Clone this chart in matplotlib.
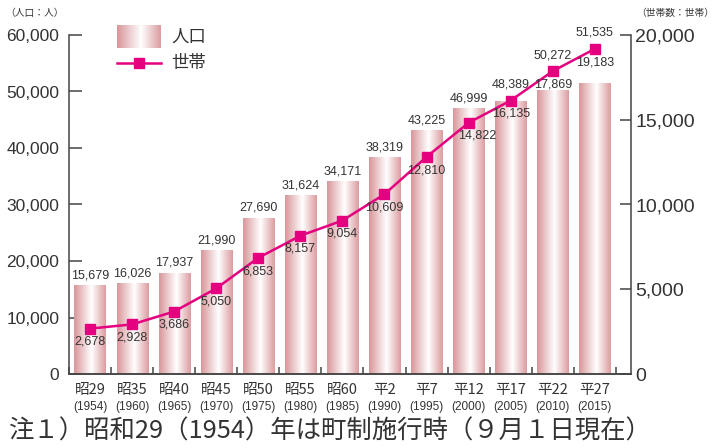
import matplotlib
matplotlib.use('Agg')
import matplotlib.pyplot as plt
from matplotlib.colors import LinearSegmentedColormap
import numpy as np

# data
eras = ['昭29', '昭35', '昭40', '昭45', '昭50', '昭55', '昭60',
        '平2', '平7', '平12', '平17', '平22', '平27']
years = ['1954', '1960', '1965', '1970', '1975', '1980', '1985',
         '1990', '1995', '2000', '2005', '2010', '2015']
population = [15679, 16026, 17937, 21990, 27690, 31624, 34171,
              38319, 43225, 46999, 48389, 50272, 51535]
households = [2678, 2928, 3686, 5050, 6853, 8157, 9054,
              10609, 12810, 14822, 16135, 17869, 19183]

JP = ['Noto Sans CJK JP', 'DejaVu Sans']
NUM = 'Liberation Sans'
PINK = '#e4007f'
TXT = '#333333'

grad = LinearSegmentedColormap.from_list(
    'bar', [(0, '#d9979b'), (0.55, '#ffffff'), (1, '#dc9da1')])
g = np.linspace(0, 1, 64).reshape(1, -1)

fig = plt.figure(figsize=(7.17, 4.48), dpi=100)
ax = fig.add_axes([69/717, 1 - 374/448, (631 - 69)/717, (374 - 35)/448])
ax2 = ax.twinx()

x = np.arange(len(eras))
bars = ax.bar(x, population, width=0.74, color='none', edgecolor='none', zorder=2)
for b in bars:
    im = ax.imshow(g, cmap=grad, aspect='auto', zorder=2,
                   extent=[b.get_x(), b.get_x() + b.get_width(), 0, b.get_height()])
    im.set_clip_path(b)

ax.set_xlim(-0.5, 12.86)
ax.set_ylim(0, 60000)
ax2.set_ylim(0, 20000)

ax2.plot(x, households, color=PINK, lw=1.8, marker='s', ms=6.5, zorder=5)

# spines and ticks
for a in (ax, ax2):
    for s in a.spines.values():
        s.set_color('#444444')
        s.set_linewidth(1.1)
    a.spines['top'].set_visible(False)
ax.spines['right'].set_visible(False)
ax2.spines['left'].set_visible(False)

ax.set_yticks(np.arange(0, 60001, 10000))
ax.set_yticklabels([f'{v:,}' for v in range(0, 60001, 10000)], fontsize=12.5, family=NUM, color=TXT)
ax.tick_params(axis='y', direction='in', length=9, width=1.1, color='#444444', pad=7)
ax2.set_yticks(np.arange(0, 20001, 5000))
ax2.set_yticklabels([f'{v:,}' for v in range(0, 20001, 5000)], fontsize=14, family=NUM, color=TXT)
ax2.tick_params(axis='y', direction='in', length=8, width=1.1, color='#444444', pad=3)

ax.set_xticks(np.arange(-0.5, 13, 1))
ax.set_xticklabels([])
ax.tick_params(axis='x', direction='in', length=5, width=1.1, color='#444444')

# category labels
for i in x:
    ax.text(i, -0.047, eras[i], transform=ax.get_xaxis_transform(), ha='center', va='center',
            fontsize=10.5, family=JP, color=TXT)
    ax.text(i, -0.098, '(' + years[i] + ')', transform=ax.get_xaxis_transform(), ha='center',
            va='center', fontsize=8.5, family=NUM, color=TXT)

# data labels
hy = lambda v: v * 3  # household value in population-axis units
for i in x:
    p = population[i]
    hp = hy(households[i])
    if hp > p - 500:
        ax.annotate(f'{p:,}', (i, hp), xytext=(0, 11.5), textcoords='offset points',
                    ha='center', va='center', fontsize=9, family=NUM, color=TXT, zorder=6)
    else:
        ax.annotate(f'{p:,}', (i, p), xytext=(0, 7), textcoords='offset points',
                    ha='center', va='center', fontsize=9, family=NUM, color=TXT, zorder=6)
    dx = 6.5 if i == 9 else 0
    ax2.annotate(f'{households[i]:,}', (i, households[i]), xytext=(dx, -9.5),
                 textcoords='offset points', ha='center', va='center', fontsize=9,
                 family=NUM, color=TXT, zorder=6)

# legend
lax = fig.add_axes([117/717, 1 - 48/448, 44/717, 23/448])
lax.imshow(g, cmap=grad, aspect='auto')
lax.axis('off')
fig.add_artist(plt.Line2D([117/717, 161/717], [1 - 63/448] * 2, color=PINK, lw=1.8,
                          transform=fig.transFigure))
fig.add_artist(plt.Line2D([139/717], [1 - 63/448], color=PINK, marker='s', ms=6.5,
                          transform=fig.transFigure))
fig.text(171/717, 1 - 37/448, '人口', fontsize=12.5, family=JP, va='center', color=TXT)
fig.text(171/717, 1 - 63/448, '世帯', fontsize=12.5, family=JP, va='center', color=TXT)

# units and note
fig.text(5/717, 1 - 13/448, '（人口：人）', fontsize=7, family=JP, va='center', color=TXT)
fig.text(714/717, 1 - 13/448, '（世帯数：世帯）', fontsize=7, family=JP, va='center', ha='right', color=TXT)
fig.text(8/717, 1 - 432/448, '注１）昭和29（1954）年は町制施行時（９月１日現在）',
         fontsize=18.3, family=JP, va='center', color=TXT)

fig.savefig('out.png', dpi=100, facecolor='white')
